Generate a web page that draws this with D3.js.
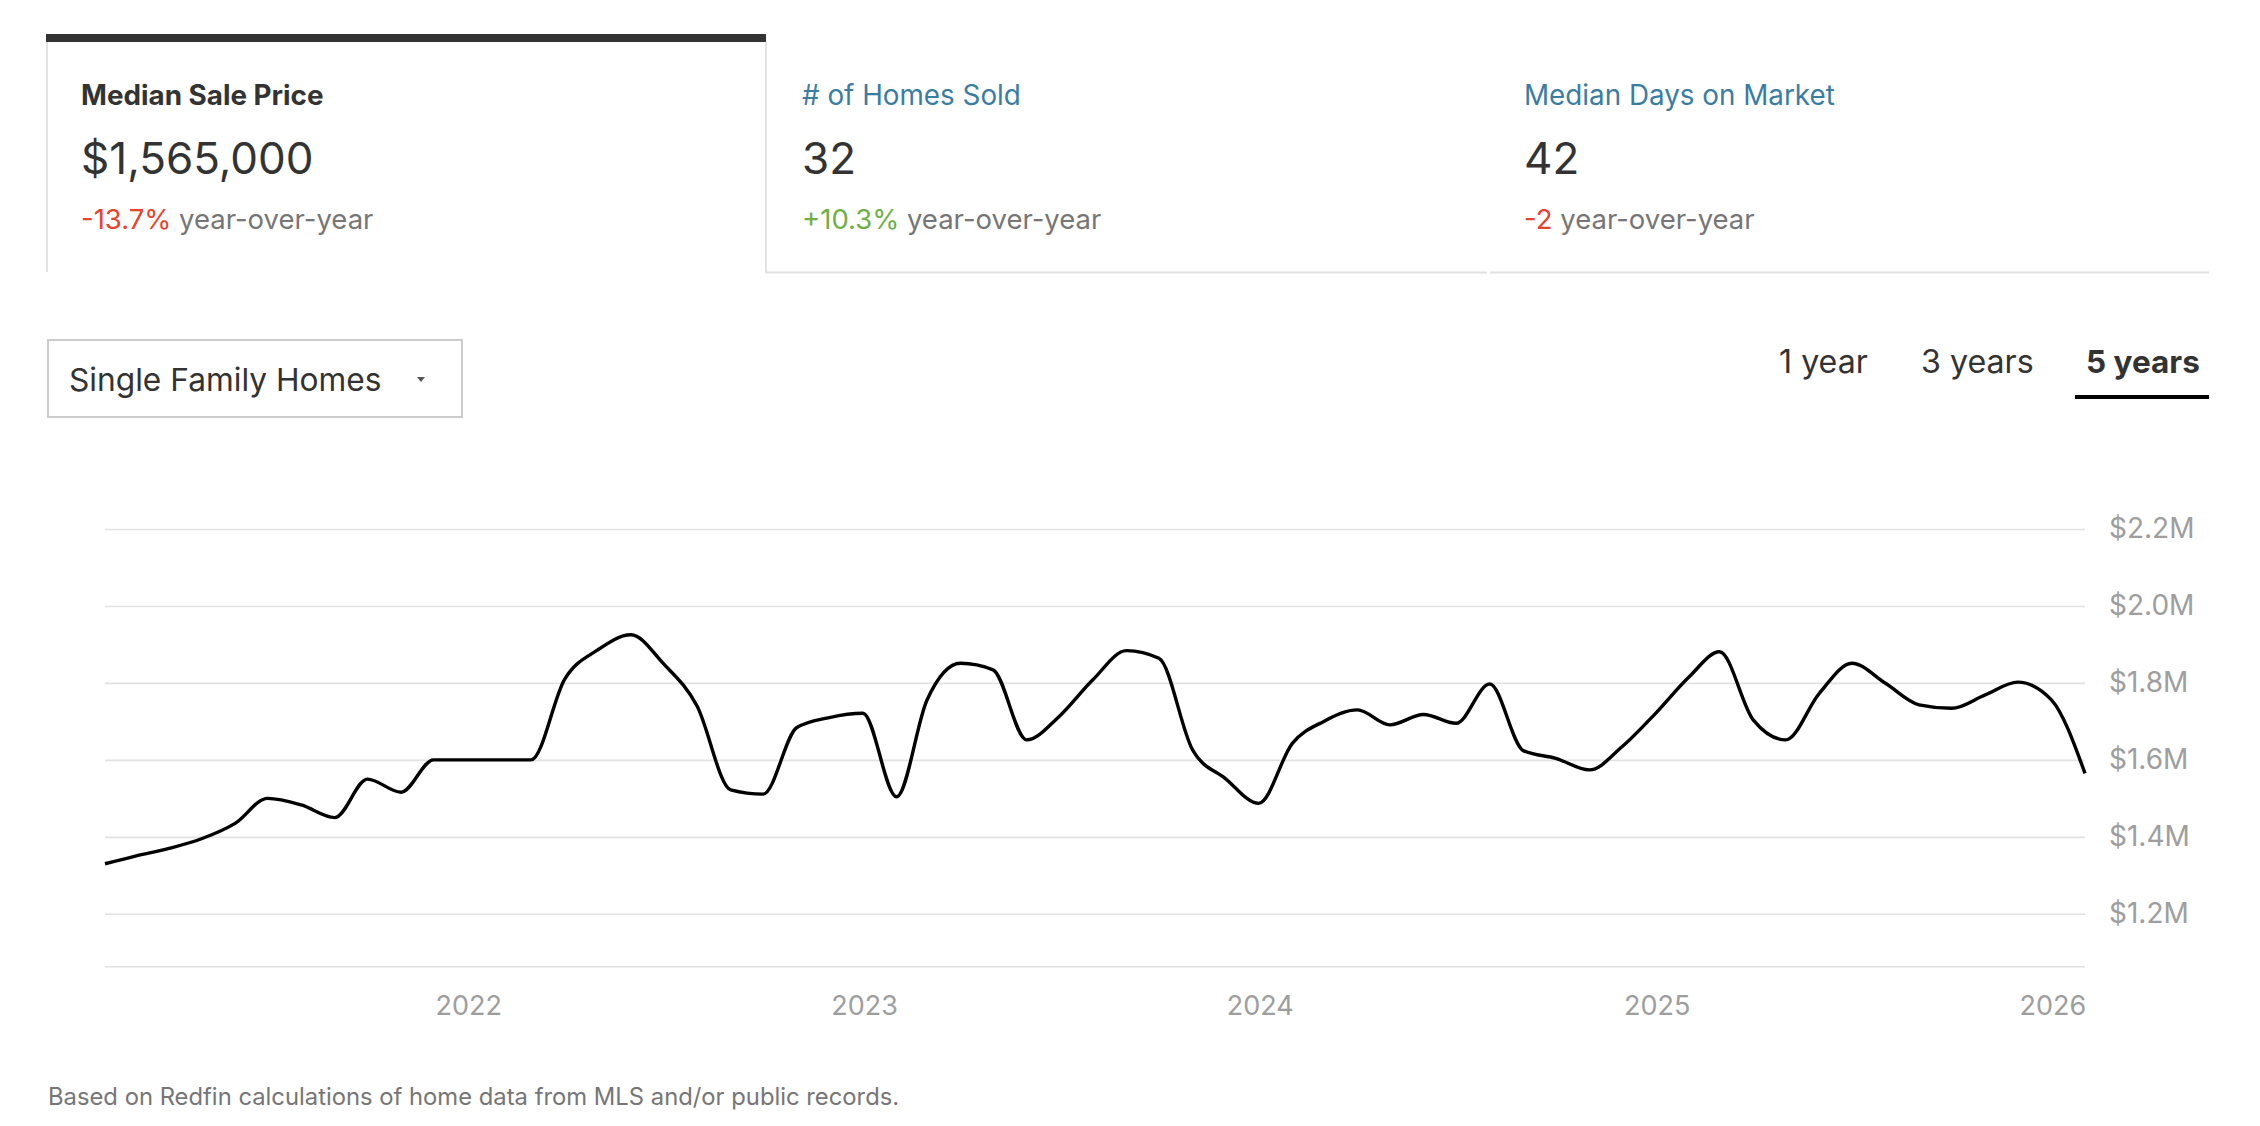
<!DOCTYPE html>
<html>
<head>
<meta charset="utf-8">
<script src="https://cdn.jsdelivr.net/npm/d3@7"></script>
<style>
  html, body { margin: 0; padding: 0; background: #fff; }
  svg { display: block; font-family: Inter, "Noto Sans", sans-serif; }
</style>
</head>
<body>
<svg id="chart" width="2260" height="1126"></svg>
<script>
// ---- data ----
const months = [
  "2021-01","2021-02","2021-03","2021-04","2021-05","2021-06","2021-07","2021-08","2021-09","2021-10","2021-11","2021-12",
  "2022-01","2022-02","2022-03","2022-04","2022-05","2022-06","2022-07","2022-08","2022-09","2022-10","2022-11","2022-12",
  "2023-01","2023-02","2023-03","2023-04","2023-05","2023-06","2023-07","2023-08","2023-09","2023-10","2023-11","2023-12",
  "2024-01","2024-02","2024-03","2024-04","2024-05","2024-06","2024-07","2024-08","2024-09","2024-10","2024-11","2024-12",
  "2025-01","2025-02","2025-03","2025-04","2025-05","2025-06","2025-07","2025-08","2025-09","2025-10","2025-11","2025-12",
  "2026-01"
];
// median sale price, $ millions
const medianPrice = [
  1.330, 1.350, 1.370, 1.395, 1.435, 1.500, 1.483, 1.450, 1.550, 1.516, 1.600, 1.600,
  1.600, 1.600, 1.810, 1.885, 1.925, 1.850, 1.740, 1.522, 1.511, 1.684, 1.710, 1.721,
  1.504, 1.755, 1.851, 1.834, 1.652, 1.713, 1.808, 1.884, 1.864, 1.626, 1.552, 1.487,
  1.643, 1.700, 1.730, 1.691, 1.718, 1.695, 1.797, 1.624, 1.604, 1.574, 1.634, 1.721,
  1.816, 1.881, 1.704, 1.652, 1.773, 1.851, 1.799, 1.743, 1.734, 1.769, 1.802, 1.756,
  1.565
];
const yTicks = [1.2, 1.4, 1.6, 1.8, 2.0, 2.2];
const yTickLabels = ["$1.2M", "$1.4M", "$1.6M", "$1.8M", "$2.0M", "$2.2M"];
const xTickYears = [2022, 2023, 2024, 2025, 2026];

const statTitles = ["Median Sale Price", "# of Homes Sold", "Median Days on Market"];
const statValues = ["$1,565,000", "32", "42"];
const statChanges = ["-13.7%", "+10.3%", "-2"];
const statChangeDir = ["down", "up", "down"];
const periodTabs = ["1 year", "3 years", "5 years"];
const propertyType = "Single Family Homes";
const footnote = "Based on Redfin calculations of home data from MLS and/or public records.";

// ---- drawing ----
(function () {
const svg = d3.select("#chart");
const parse = d3.timeParse("%Y-%m");
const monthEnd = s => { const d = parse(s); return new Date(d.getFullYear(), d.getMonth() + 1, 0); };
const data = months.map((m, i) => ({ date: monthEnd(m), value: medianPrice[i] }));

const tabRight = 2209;
const lineGray = "#e2e2e2";
// active tab borders
svg.append("rect").attr("x", 46).attr("y", 34).attr("width", 720).attr("height", 8).attr("fill", "#333");
svg.append("line").attr("x1", 47).attr("x2", 47).attr("y1", 42).attr("y2", 272).attr("stroke", lineGray).attr("stroke-width", 2);
svg.append("line").attr("x1", 766).attr("x2", 766).attr("y1", 42).attr("y2", 273).attr("stroke", lineGray).attr("stroke-width", 2);
svg.append("line").attr("x1", 766).attr("x2", 1487).attr("y1", 272.5).attr("y2", 272.5).attr("stroke", lineGray).attr("stroke-width", 2);
svg.append("line").attr("x1", 1490).attr("x2", tabRight).attr("y1", 272.5).attr("y2", 272.5).attr("stroke", lineGray).attr("stroke-width", 2);

const textX = [81, 802, 1524];
statTitles.forEach((t, i) => {
  svg.append("text").attr("x", textX[i]).attr("y", 105)
    .attr("font-size", 27.8).attr("font-weight", i === 0 ? 700 : 400)
    .attr("fill", i === 0 ? "#333" : "#3a7da3").text(t);
  svg.append("text").attr("x", textX[i]).attr("y", 173.5)
    .attr("font-size", 44).attr("fill", "#333").text(statValues[i]);
  const yoy = svg.append("text").attr("x", textX[i]).attr("y", 229).attr("font-size", 27.5);
  yoy.append("tspan").attr("fill", statChangeDir[i] === "up" ? "#6fb043" : "#e8432d").text(statChanges[i]);
  yoy.append("tspan").attr("fill", "#767676").text(" year-over-year");
});

// dropdown
svg.append("rect").attr("x", 48).attr("y", 340).attr("width", 414).attr("height", 77)
  .attr("fill", "#fff").attr("stroke", "#cccccc").attr("stroke-width", 2);
svg.append("text").attr("x", 69).attr("y", 391).attr("font-size", 31.7).attr("fill", "#333").text(propertyType);
svg.append("path").attr("d", "M417,377 L425,377 L421,382 Z").attr("fill", "#555");

// period tabs
const periodX = [1779, 1921, 2086];
periodTabs.forEach((p, i) => {
  svg.append("text").attr("x", periodX[i]).attr("y", 373).attr("font-size", i === 2 ? 31.5 : 32.2)
    .attr("font-weight", i === 2 ? 700 : 400).attr("fill", "#333").text(p);
});
svg.append("rect").attr("x", 2075).attr("y", 395).attr("width", 134).attr("height", 4).attr("fill", "#000");

// chart
const pLeft = 105, pRight = 2085, pTop = 529, pBottom = 966.7;
const x = d3.scaleTime().domain(d3.extent(data, d => d.date)).range([pLeft, pRight]);
const y = d3.scaleLinear().domain([1.0625, 2.2]).range([pBottom, pTop]);

const yAxis = d3.axisRight(y).tickValues(yTicks)
  .tickFormat((d, i) => yTickLabels[i])
  .tickSizeInner(-(pRight - pLeft)).tickSizeOuter(0).tickPadding(24);
const gy = svg.append("g").attr("transform", `translate(${pRight},0)`).call(yAxis);
gy.select(".domain").remove();
gy.selectAll(".tick line").attr("stroke", lineGray).attr("stroke-width", 1.6);
gy.selectAll(".tick text").attr("font-size", 28).attr("fill", "#9e9e9e")
  .attr("font-family", "Inter, 'Noto Sans', sans-serif");

// baseline
svg.append("line").attr("x1", pLeft).attr("x2", pRight).attr("y1", y(1.0625)).attr("y2", y(1.0625))
  .attr("stroke", lineGray).attr("stroke-width", 1.6);

const xAxis = d3.axisBottom(x).tickValues(xTickYears.map(yr => new Date(yr, 0, 1)))
  .tickFormat(d3.timeFormat("%Y")).tickSize(0).tickPadding(29);
const gx = svg.append("g").attr("transform", `translate(0,${pBottom})`).call(xAxis);
gx.select(".domain").remove();
gx.selectAll(".tick text").attr("font-size", 27).attr("fill", "#9e9e9e")
  .attr("font-family", "Inter, 'Noto Sans', sans-serif");

const line = d3.line().x(d => x(d.date)).y(d => y(d.value)).curve(d3.curveMonotoneX);
svg.append("path").datum(data).attr("d", line)
  .attr("fill", "none").attr("stroke", "#000").attr("stroke-width", 3.4).attr("stroke-linejoin", "round");

// footnote
svg.append("text").attr("x", 48).attr("y", 1105).attr("font-size", 23.8).attr("fill", "#767676").text(footnote);
})();
</script>
</body>
</html>
